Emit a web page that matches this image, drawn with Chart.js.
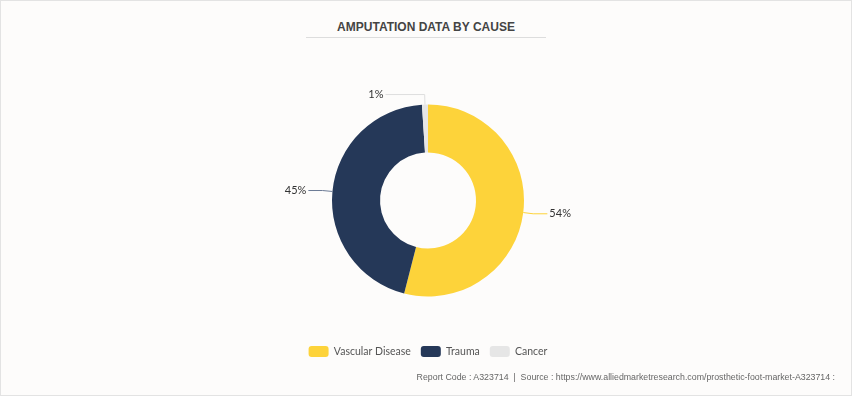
<!DOCTYPE html>
<html>
<head>
<meta charset="utf-8">
<script src="https://cdn.jsdelivr.net/npm/chart.js@4.4.1/dist/chart.umd.min.js"></script>
<style>
    html, body { margin: 0; padding: 0; }
    body { width: 852px; height: 396px; background: #fdfcfb; position: relative; overflow: hidden; }
    .frame { position: absolute; left: 0; top: 0; width: 850px; height: 394px; border: 1px solid #e3e3e3; }
    .title {
        position: absolute; left: 306px; width: 240px; top: 20px; text-align: center;
        font: bold 12px "Liberation Sans", Arial, sans-serif; color: #444;
        padding-bottom: 3px; border-bottom: 1px solid #ddd;
    }
    .footer {
        position: absolute; right: 17px; top: 372px;
        font: 8.8px "Liberation Sans", Arial, sans-serif; color: #666;
    }
    #wrap { position: absolute; left: 0; top: 0; width: 852px; height: 396px; }
</style>
</head>
<body>
<div class="frame"></div>
<div class="title">AMPUTATION DATA BY CAUSE</div>
<div id="wrap"><canvas id="pieChart"></canvas></div>
<div class="footer">Report Code : A323714 &nbsp;|&nbsp; Source : https://www.alliedmarketresearch.com/prosthetic-foot-market-A323714 :</div>

<script>
// données
const causes = ['Vascular Disease', 'Trauma', 'Cancer'];
const shares = [54, 45, 1];
const sliceColors = ['#fdd33a', '#253858', '#e6e6e6'];

// étiquettes extérieures avec traits de rappel
const outsideLabels = {
    id: 'outsideLabels',
    afterDatasetsDraw(chart) {
        const ctx = chart.ctx;
        const meta = chart.getDatasetMeta(0);
        ctx.save();
        ctx.font = '11px Lato, sans-serif';
        ctx.fillStyle = '#333';
        ctx.textBaseline = 'middle';
        meta.data.forEach((arc, i) => {
            const p = arc.getProps(['x', 'y', 'startAngle', 'endAngle', 'outerRadius'], true);
            const mid = (p.startAngle + p.endAngle) / 2;
            const cos = Math.cos(mid), sin = Math.sin(mid);
            const x0 = p.x + cos * p.outerRadius;
            const y0 = p.y + sin * p.outerRadius;
            const x1 = p.x + cos * (p.outerRadius + 10);
            const y1 = p.y + sin * (p.outerRadius + 10);
            const right = cos >= 0;
            const len = 14 + 26 * (1 - Math.abs(cos));
            const x2 = x1 + (right ? 1 : -1) * len;
            ctx.strokeStyle = i === 0 ? '#fdd33a' : (i === 1 ? '#6b7a95' : '#dedede');
            ctx.lineWidth = 1;
            ctx.beginPath();
            ctx.moveTo(x0, y0);
            ctx.lineTo(x1, y1);
            ctx.lineTo(x2, y1);
            ctx.stroke();
            ctx.textAlign = right ? 'left' : 'right';
            ctx.fillText(shares[i] + '%', x2 + (right ? 2 : -2), y1);
        });
        ctx.restore();
    }
};

new Chart(document.getElementById('pieChart'), {
    type: 'doughnut',
    data: {
        labels: causes,
        datasets: [{
            data: shares,
            backgroundColor: sliceColors,
            borderWidth: 0,
            hoverOffset: 0
        }]
    },
    options: {
        responsive: true,
        maintainAspectRatio: false,
        animation: false,
        radius: 96,
        cutout: '50%',
        layout: { padding: { top: 65, bottom: 29, left: 4, right: 0 } },
        plugins: {
            legend: {
                position: 'bottom',
                labels: {
                    boxWidth: 20,
                    boxHeight: 11,
                    padding: 10,
                    color: '#555',
                    font: { size: 10.5, family: 'Lato, sans-serif' },
                    useBorderRadius: true,
                    borderRadius: 3
                }
            },
            tooltip: { enabled: false }
        }
    },
    plugins: [outsideLabels]
});
</script>
</body>
</html>
